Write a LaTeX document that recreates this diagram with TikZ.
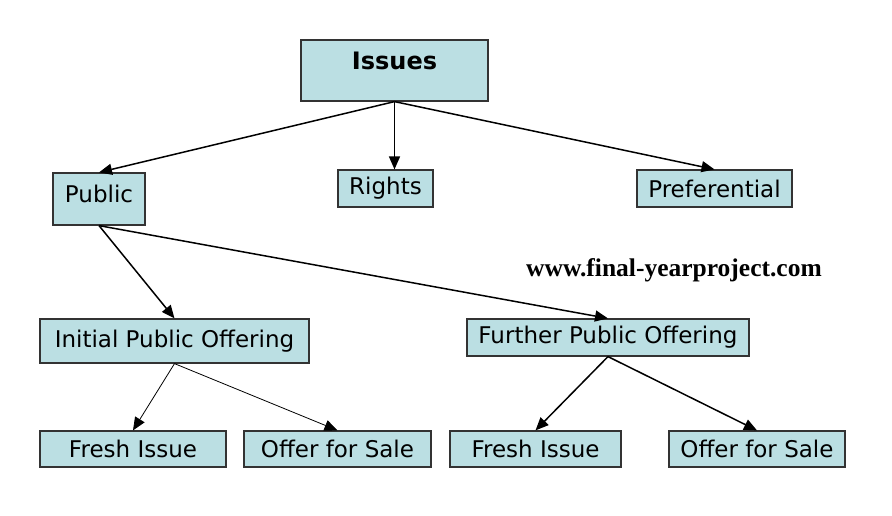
\documentclass[tikz,border=0pt]{standalone}
\usepackage{fontspec}
\setmainfont{DejaVu Sans}
\newfontfamily\wmfont{Liberation Serif}
\usetikzlibrary{arrows.meta}
\definecolor{boxfill}{RGB}{187,223,227}

\begin{document}
\begin{tikzpicture}[x=1pt,y=-1pt,
    box/.style={draw=black!80,fill=boxfill,line width=1.2pt,inner sep=0pt,font=\fontsize{23}{25}\selectfont},
    arr/.style={-{Triangle[length=13pt,width=11pt]},line width=1.5pt},
    thinarr/.style={-{Triangle[length=13pt,width=11pt]},line width=0.8pt}]
    \useasboundingbox (0,0) rectangle (892,516);
    % top level
    \node[box,minimum width=187,text height=30,text depth=31,anchor=base,font=\fontsize{24}{26}\selectfont\bfseries] (issues) at (394.5,70) {Issues};
    \node[box,minimum width=92,text height=29,text depth=23,anchor=base] (public) at (99,202) {Public};
    \node[box,minimum width=95,minimum height=37] (rights) at (385.5,188.5) {Rights};
    \node[box,minimum width=155,minimum height=37] (pref) at (714.5,188.5) {Preferential};
    % second level
    \node[box,minimum width=269,minimum height=44] (ipo) at (174.5,341) {Initial Public Offering};
    \node[box,minimum width=282,minimum height=37] (fpo) at (608,337.5) {Further Public Offering};
    % third level
    \node[box,minimum width=186,minimum height=36] (freshl) at (133,449) {Fresh Issue};
    \node[box,minimum width=187,minimum height=36] (offerl) at (337.5,449) {Offer for Sale};
    \node[box,minimum width=171,minimum height=36] (freshr) at (535.5,449) {Fresh Issue};
    \node[box,minimum width=176,minimum height=36] (offerr) at (757,449) {Offer for Sale};
    % watermark
    \node[font=\wmfont\fontsize{25.5}{27}\selectfont\bfseries] (wm) at (674,270) {www.final-yearproject.com};
    % connectors
    \draw[arr] (issues.south) -- (public.north);
    \draw[arr] (issues.south) -- (rights.north -| issues.south);
    \draw[arr] (issues.south) -- (pref.north);
    \draw[arr] (public.south) -- (ipo.north);
    \draw[arr] (public.south) -- (fpo.north);
    \draw[thinarr] (ipo.south) -- (freshl.north);
    \draw[thinarr] (ipo.south) -- (offerl.north);
    \draw[arr] (fpo.south) -- (freshr.north);
    \draw[arr] (fpo.south) -- (offerr.north);
\end{tikzpicture}
\end{document}
